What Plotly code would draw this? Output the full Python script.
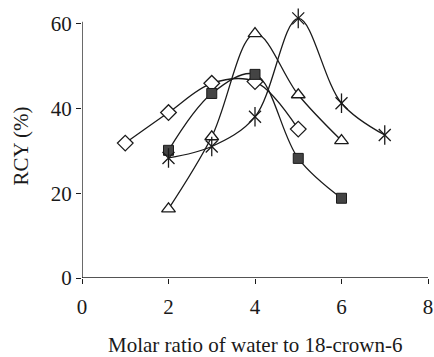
import plotly.graph_objects as go

x_diamond = [1, 2, 3, 4, 5]
y_diamond = [31.8, 39.0, 45.9, 46.3, 35.1]
x_square = [2, 3, 4, 5, 6]
y_square = [30.1, 43.5, 48.0, 28.2, 18.8]
x_triangle = [2, 3, 4, 5, 6]
y_triangle = [16.3, 33.3, 57.6, 43.2, 32.4]
x_star = [2, 3, 4, 5, 6, 7]
y_star = [28.3, 31.0, 38.0, 61.2, 41.2, 33.7]

x_ticks = [0, 2, 4, 6, 8]
y_ticks = [0, 20, 40, 60]
x_title = "Molar ratio of water to 18-crown-6"
y_title = "RCY (%)"

LC = "#1a1a1a"
fig = go.Figure()

def line_trace(x, y):
    return go.Scatter(x=x, y=y, mode="lines", line=dict(color=LC, width=1.3, shape="spline", smoothing=1.0),
                      hoverinfo="skip", showlegend=False)

for xs, ys in [(x_diamond, y_diamond), (x_square, y_square), (x_triangle, y_triangle), (x_star, y_star)]:
    fig.add_trace(line_trace(xs, ys))

fig.add_trace(go.Scatter(x=x_diamond, y=y_diamond, mode="markers", cliponaxis=False, showlegend=False,
                         marker=dict(symbol="diamond", size=12, color="white", line=dict(color=LC, width=1.3))))
fig.add_trace(go.Scatter(x=x_square, y=y_square, mode="markers", cliponaxis=False, showlegend=False,
                         marker=dict(symbol="square", size=10, color="#444444", line=dict(color=LC, width=1))))
fig.add_trace(go.Scatter(x=x_triangle, y=y_triangle, mode="markers", cliponaxis=False, showlegend=False,
                         marker=dict(symbol="triangle-up", size=12, color="white", line=dict(color=LC, width=1.3))))
fig.add_trace(go.Scatter(x=x_star, y=y_star, mode="markers", cliponaxis=False, showlegend=False,
                         marker=dict(symbol="x-thin-open", size=12, color=LC, line=dict(color=LC, width=1.3))))
fig.add_trace(go.Scatter(x=x_star, y=y_star, mode="markers", cliponaxis=False, showlegend=False,
                         marker=dict(symbol="line-ns-open", size=14, color=LC, line=dict(color=LC, width=1.3))))

font = dict(family="Liberation Serif", size=21, color="#1a1a1a")

fig.update_layout(
    width=434, height=357,
    margin=dict(l=82, r=6, t=15, b=79),
    paper_bgcolor="white", plot_bgcolor="white",
    font=font,
    xaxis=dict(range=[0, 8], tickvals=x_ticks, ticks="outside", ticklen=5, tickwidth=1.3, tickcolor=LC,
               showline=False, showgrid=False, zeroline=False, ticklabelstandoff=5, automargin=False),
    yaxis=dict(range=[0, 62], tickvals=y_ticks, ticks="outside", ticklen=5, tickwidth=1.3, tickcolor=LC,
               showline=False, showgrid=False, zeroline=False, ticklabelstandoff=0, automargin=False),
    shapes=[
        dict(type="line", xref="x", yref="y", x0=0, x1=8, y0=0, y1=0, line=dict(color=LC, width=1.3)),
        dict(type="line", xref="x", yref="y", x0=0, x1=0, y0=0, y1=60.4, line=dict(color=LC, width=1.3)),
    ],
    annotations=[
        dict(text=x_title, xref="paper", yref="paper", x=0.5, y=-0.256, xanchor="center", yanchor="middle",
             showarrow=False, font=dict(size=21)),
        dict(text=y_title, xref="paper", yref="paper", x=-0.179, y=0.5, xanchor="center", yanchor="middle",
             textangle=-90, showarrow=False, font=dict(size=21)),
    ],
)

fig.write_html("out.html")
